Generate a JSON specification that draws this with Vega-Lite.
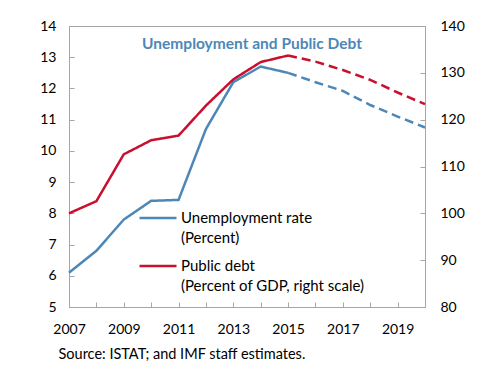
{
  "$schema": "https://vega.github.io/schema/vega-lite/v6.json",
  "width": 356,
  "height": 281,
  "autosize": {"type": "none"},
  "padding": {"left": 69, "top": 26, "right": 64, "bottom": 75},
  "background": "white",
  "config": {
    "font": "Lato",
    "view": {"stroke": "#a6a6a6", "strokeWidth": 1},
    "axis": {
      "grid": false,
      "domainColor": "#a6a6a6",
      "tickColor": "#a6a6a6",
      "labelColor": "#000000",
      "labelFontSize": 14,
      "labelFont": "Lato",
      "tickSize": -5,
      "labelFlush": false
    },
    "style": {"guide-label": {"lineHeight": 20}}
  },
  "title": {
    "text": "Unemployment and Public Debt",
    "color": "#4D87B8",
    "fontSize": 15.5,
    "fontWeight": "bold",
    "font": "Lato",
    "anchor": "middle",
    "baseline": "alphabetic",
    "offset": -45,
    "dx": 5
  },
  "datasets": {
    "unemp": [
      {"year": 2007, "value": 6.1, "series": "Unemployment rate", "segment": "actual"},
      {"year": 2008, "value": 6.8, "series": "Unemployment rate", "segment": "actual"},
      {"year": 2009, "value": 7.8, "series": "Unemployment rate", "segment": "actual"},
      {"year": 2010, "value": 8.4, "series": "Unemployment rate", "segment": "actual"},
      {"year": 2011, "value": 8.43, "series": "Unemployment rate", "segment": "actual"},
      {"year": 2012, "value": 10.7, "series": "Unemployment rate", "segment": "actual"},
      {"year": 2013, "value": 12.2, "series": "Unemployment rate", "segment": "actual"},
      {"year": 2014, "value": 12.7, "series": "Unemployment rate", "segment": "actual"},
      {"year": 2015, "value": 12.5, "series": "Unemployment rate", "segment": "actual"},
      {"year": 2015, "value": 12.5, "series": "Unemployment rate", "segment": "projection"},
      {"year": 2016, "value": 12.2, "series": "Unemployment rate", "segment": "projection"},
      {"year": 2017, "value": 11.92, "series": "Unemployment rate", "segment": "projection"},
      {"year": 2018, "value": 11.47, "series": "Unemployment rate", "segment": "projection"},
      {"year": 2019, "value": 11.1, "series": "Unemployment rate", "segment": "projection"},
      {"year": 2020, "value": 10.75, "series": "Unemployment rate", "segment": "projection"}
    ],
    "debt": [
      {"year": 2007, "value": 100.0, "series": "Public debt", "segment": "actual"},
      {"year": 2008, "value": 102.6, "series": "Public debt", "segment": "actual"},
      {"year": 2009, "value": 112.6, "series": "Public debt", "segment": "actual"},
      {"year": 2010, "value": 115.6, "series": "Public debt", "segment": "actual"},
      {"year": 2011, "value": 116.6, "series": "Public debt", "segment": "actual"},
      {"year": 2012, "value": 123.0, "series": "Public debt", "segment": "actual"},
      {"year": 2013, "value": 128.6, "series": "Public debt", "segment": "actual"},
      {"year": 2014, "value": 132.3, "series": "Public debt", "segment": "actual"},
      {"year": 2015, "value": 133.7, "series": "Public debt", "segment": "actual"},
      {"year": 2015, "value": 133.7, "series": "Public debt", "segment": "projection"},
      {"year": 2016, "value": 132.4, "series": "Public debt", "segment": "projection"},
      {"year": 2017, "value": 130.6, "series": "Public debt", "segment": "projection"},
      {"year": 2018, "value": 128.5, "series": "Public debt", "segment": "projection"},
      {"year": 2019, "value": 125.8, "series": "Public debt", "segment": "projection"},
      {"year": 2020, "value": 123.3, "series": "Public debt", "segment": "projection"}
    ]
  },
  "encoding": {
    "x": {
      "field": "year", "type": "quantitative",
      "scale": {"domain": [2007, 2020], "nice": false, "zero": false},
      "axis": {
        "values": [2007, 2008, 2009, 2010, 2011, 2012, 2013, 2014, 2015, 2016, 2017, 2018, 2019, 2020],
        "format": "d",
        "labelExpr": "datum.value % 2 == 1 ? datum.label : ''",
        "labelPadding": 20,
        "title": "Source: ISTAT; and IMF staff estimates.",
        "titleFontSize": 14.5,
        "titleFontWeight": "normal",
        "titleFont": "Lato",
        "titleColor": "#000000",
        "titleAnchor": "start",
        "titleAlign": "left",
        "titleBaseline": "alphabetic",
        "titleX": -11,
        "titleY": 51
      }
    },
    "strokeDash": {
      "field": "segment", "type": "nominal",
      "scale": {"domain": ["actual", "projection"], "range": [[1, 0], [9, 5]]},
      "legend": null
    },
    "color": {
      "field": "series", "type": "nominal",
      "scale": {"domain": ["Unemployment rate", "Public debt"], "range": ["#4D87B8", "#C8102E"]},
      "legend": {
        "title": null,
        "orient": "none",
        "legendX": 69,
        "legendY": 172,
        "symbolType": "stroke",
        "symbolSize": 1369,
        "symbolStrokeWidth": 2.5,
        "labelFontSize": 15,
        "labelFont": "Lato",
        "labelColor": "#000000",
        "labelLimit": 400,
        "labelOffset": 3,
        "rowPadding": -2,
        "labelExpr": "datum.label == 'Public debt' ? ['Public debt', '(Percent of GDP, right scale)'] : ['Unemployment rate', '(Percent)']"
      }
    }
  },
  "layer": [
    {
      "data": {"name": "unemp"},
      "mark": {"type": "line", "strokeWidth": 2.5},
      "encoding": {
        "y": {
          "field": "value", "type": "quantitative",
          "scale": {"domain": [5, 14], "nice": false, "zero": false},
          "axis": {"values": [5, 6, 7, 8, 9, 10, 11, 12, 13, 14], "title": null, "labelPadding": 18}
        }
      }
    },
    {
      "data": {"name": "debt"},
      "mark": {"type": "line", "strokeWidth": 2.5},
      "encoding": {
        "y": {
          "field": "value", "type": "quantitative",
          "scale": {"domain": [80, 140], "nice": false, "zero": false},
          "axis": {"orient": "right", "values": [80, 90, 100, 110, 120, 130, 140], "title": null, "labelPadding": 20}
        }
      }
    }
  ],
  "resolve": {"scale": {"y": "independent"}}
}
